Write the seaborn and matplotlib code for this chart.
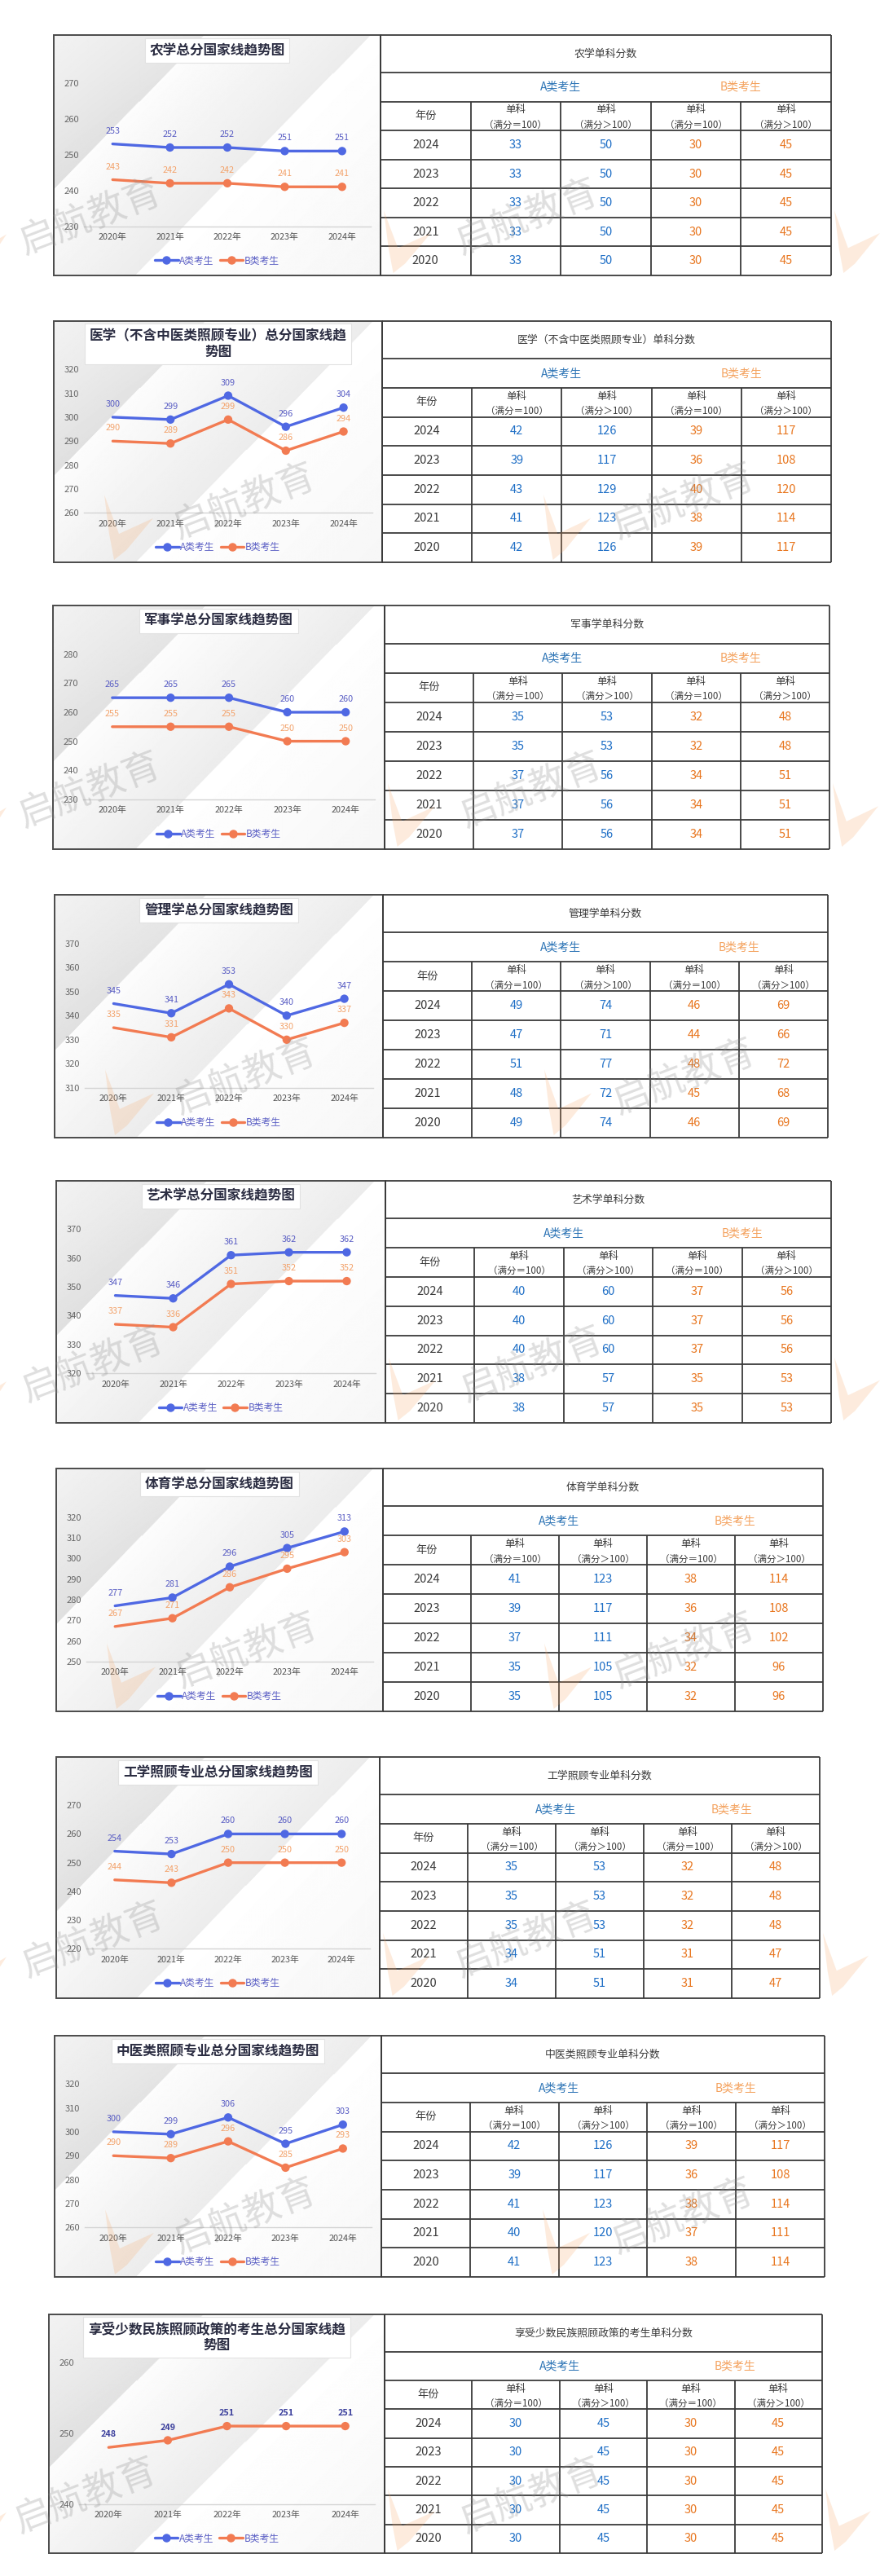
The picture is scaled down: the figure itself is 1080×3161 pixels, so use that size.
import numpy as np
import pandas as pd
import matplotlib
matplotlib.use("Agg")
import matplotlib.pyplot as plt
import seaborn as sns
from matplotlib.lines import Line2D
from matplotlib.patches import Rectangle, Polygon

# ---------------- data ----------------
years = [2020, 2021, 2022, 2023, 2024]
year_labels = ["2020年", "2021年", "2022年", "2023年", "2024年"]
table_years = [2024, 2023, 2022, 2021, 2020]
series_names = ["A类考生", "B类考生"]

chart_titles = [
    "农学总分国家线趋势图",
    "医学（不含中医类照顾专业）总分国家线趋\n势图",
    "军事学总分国家线趋势图",
    "管理学总分国家线趋势图",
    "艺术学总分国家线趋势图",
    "体育学总分国家线趋势图",
    "工学照顾专业总分国家线趋势图",
    "中医类照顾专业总分国家线趋势图",
    "享受少数民族照顾政策的考生总分国家线趋\n势图",
]
table_titles = [
    "农学单科分数",
    "医学（不含中医类照顾专业）单科分数",
    "军事学单科分数",
    "管理学单科分数",
    "艺术学单科分数",
    "体育学单科分数",
    "工学照顾专业单科分数",
    "中医类照顾专业单科分数",
    "享受少数民族照顾政策的考生单科分数",
]

# total scores (2020..2024)
nongxue_a = [253, 252, 252, 251, 251]
nongxue_b = [243, 242, 242, 241, 241]
yixue_a = [300, 299, 309, 296, 304]
yixue_b = [290, 289, 299, 286, 294]
junshi_a = [265, 265, 265, 260, 260]
junshi_b = [255, 255, 255, 250, 250]
guanli_a = [345, 341, 353, 340, 347]
guanli_b = [335, 331, 343, 330, 337]
yishu_a = [347, 346, 361, 362, 362]
yishu_b = [337, 336, 351, 352, 352]
tiyu_a = [277, 281, 296, 305, 313]
tiyu_b = [267, 271, 286, 295, 303]
gongxue_a = [254, 253, 260, 260, 260]
gongxue_b = [244, 243, 250, 250, 250]
zhongyi_a = [300, 299, 306, 295, 303]
zhongyi_b = [290, 289, 296, 285, 293]
minzu_a = None
minzu_b = [248, 249, 251, 251, 251]

y_ranges = [(230, 270), (260, 320), (230, 280), (310, 370), (320, 370),
            (250, 320), (220, 270), (260, 320), (240, 260)]

# single-subject tables, rows 2024..2020: [A =100, A >100, B =100, B >100]
nongxue_tab = [[33, 50, 30, 45], [33, 50, 30, 45], [33, 50, 30, 45], [33, 50, 30, 45], [33, 50, 30, 45]]
yixue_tab = [[42, 126, 39, 117], [39, 117, 36, 108], [43, 129, 40, 120], [41, 123, 38, 114], [42, 126, 39, 117]]
junshi_tab = [[35, 53, 32, 48], [35, 53, 32, 48], [37, 56, 34, 51], [37, 56, 34, 51], [37, 56, 34, 51]]
guanli_tab = [[49, 74, 46, 69], [47, 71, 44, 66], [51, 77, 48, 72], [48, 72, 45, 68], [49, 74, 46, 69]]
yishu_tab = [[40, 60, 37, 56], [40, 60, 37, 56], [40, 60, 37, 56], [38, 57, 35, 53], [38, 57, 35, 53]]
tiyu_tab = [[41, 123, 38, 114], [39, 117, 36, 108], [37, 111, 34, 102], [35, 105, 32, 96], [35, 105, 32, 96]]
gongxue_tab = [[35, 53, 32, 48], [35, 53, 32, 48], [35, 53, 32, 48], [34, 51, 31, 47], [34, 51, 31, 47]]
zhongyi_tab = [[42, 126, 39, 117], [39, 117, 36, 108], [41, 123, 38, 114], [40, 120, 37, 111], [41, 123, 38, 114]]
minzu_tab = [[30, 45, 30, 45], [30, 45, 30, 45], [30, 45, 30, 45], [30, 45, 30, 45], [30, 45, 30, 45]]

a_series = [nongxue_a, yixue_a, junshi_a, guanli_a, yishu_a, tiyu_a, gongxue_a, zhongyi_a, minzu_a]
b_series = [nongxue_b, yixue_b, junshi_b, guanli_b, yishu_b, tiyu_b, gongxue_b, zhongyi_b, minzu_b]
tables = [nongxue_tab, yixue_tab, junshi_tab, guanli_tab, yishu_tab, tiyu_tab, gongxue_tab, zhongyi_tab, minzu_tab]

# ---------------- style ----------------
sns.set_theme(style="white")
plt.rcParams["font.family"] = ["Noto Sans CJK SC", "DejaVu Sans"]
plt.rcParams["axes.unicode_minus"] = False

W, H = 1080, 3161
fig = plt.figure(figsize=(W / 100, H / 100), dpi=100)
fig.patch.set_facecolor("white")

COL_A = "#4f68e3"
COL_B = "#f27b52"
LAB_A = "#5a5ec4"
LAB_B = "#f3a36c"
TAB_A = "#1f6fc6"
TAB_B = "#e8761f"
LINE = "#3a3a3a"

# panel geometry in pixels: chart-left, table-left, table-right, top, bottom
panels = [
    (66, 467, 1020, 43, 338),
    (66, 469, 1020, 394, 690),
    (65, 472, 1018, 743, 1042),
    (67, 470, 1016, 1098, 1396),
    (69, 473, 1020, 1449, 1746),
    (69, 470, 1010, 1802, 2100),
    (69, 466, 1006, 2156, 2452),
    (67, 468, 1012, 2498, 2794),
    (60, 472, 1009, 2840, 3133),
]


def rect(x0, y0, x1, y1):
    return [x0 / W, 1 - y1 / H, (x1 - x0) / W, (y1 - y0) / H]


def fx(x):
    return x / W


def fy(y):
    return 1 - y / H


# background gradient of chart boxes
nx, ny = 420, 300
gx = np.linspace(0, 1, nx)[None, :]
gy = np.linspace(0, 1, ny)[:, None]
t = gx + 0.72 * gy
grad = np.select(
    [t < 0.46, t < 0.97],
    [0.95 - 0.09 * (t / 0.46) * (0.55 + 0.45 * gy),
     0.99 - 0.065 * ((t - 0.46) / 0.51)],
    default=1.0 - 0.035 * ((t - 0.97) / 0.75),
)
grad = np.clip(grad, 0, 1)


def chevron(x0, y0, w, h, alpha=0.22):
    shape = [(0.0, 0.0), (0.3, 0.6), (1.0, 0.36), (0.45, 0.85), (0.2, 1.0), (0.1, 0.6)]
    pts = [(fx(x0 + u * w), fy(y0 + v * h)) for u, v in shape]
    poly = Polygon(pts, closed=True, transform=fig.transFigure, facecolor="#f7a868",
                   edgecolor="none", alpha=alpha, zorder=8)
    fig.add_artist(poly)


def watermark(x, y):
    fig.text(fx(x), fy(y), "启航教育", fontsize=33, color="#8c8c8c", alpha=0.28,
             rotation=21, ha="center", va="center", zorder=9)


for k in range(9):
    cl, tl, tr, top, bot = panels[k]
    bh = bot - top

    # ---- chart background box ----
    bg = fig.add_axes(rect(cl, top, tl, bot), zorder=0)
    bg.imshow(grad, extent=[0, 1, 0, 1], aspect="auto", cmap="gray", vmin=0, vmax=1,
              interpolation="bilinear")
    bg.set_xlim(0, 1)
    bg.set_ylim(0, 1)
    bg.axis("off")
    bg.add_patch(Rectangle((0, 0), 1, 1, transform=bg.transAxes, fill=False,
                           ec="#4a4a4a", lw=1.4, clip_on=False, zorder=5))

    # ---- line chart ----
    ax = fig.add_axes(rect(cl + 37, top + 0.20 * bh, tl - 12, top + 0.795 * bh), zorder=2)
    ax.patch.set_alpha(0)
    rows = []
    for name, vals in zip(series_names, [a_series[k], b_series[k]]):
        if vals is None:
            continue
        for i, v in enumerate(vals):
            rows.append({"x": i, "score": v, "group": name})
    df = pd.DataFrame(rows)
    pal = {"A类考生": COL_A, "B类考生": COL_B}
    sns.lineplot(data=df, x="x", y="score", hue="group", palette=pal, ax=ax,
                 linewidth=2.4, legend=False, zorder=3)
    sns.scatterplot(data=df[df["x"] > 0], x="x", y="score", hue="group", palette=pal,
                    ax=ax, s=55, edgecolor="none", legend=False, zorder=4)
    for _, r in df.iterrows():
        if k == 8:
            c, fw = "#3b3f9c", "bold"
        else:
            c = LAB_A if r["group"] == "A类考生" else LAB_B
            fw = "normal"
        ax.annotate(f"{int(r['score'])}", (r["x"], r["score"]), xytext=(0, 11.5),
                    textcoords="offset points", ha="center", va="center",
                    fontsize=7.8, color=c, fontweight=fw, zorder=5)
    ymin, ymax = y_ranges[k]
    ax.set_xlim(-0.5, 4.5)
    ax.set_ylim(ymin, ymax)
    ax.set_yticks(np.arange(ymin, ymax + 1, 10))
    ax.set_xticks(range(5))
    ax.set_xticklabels(year_labels)
    ax.set_xticks(np.arange(-0.5, 5, 1), minor=True)
    ax.set_xlabel("")
    ax.set_ylabel("")
    for s in ["top", "right", "left"]:
        ax.spines[s].set_visible(False)
    ax.spines["bottom"].set_color("#d4d4d4")
    ax.spines["bottom"].set_linewidth(1.0)
    ax.tick_params(axis="y", length=0, pad=4, labelsize=8, labelcolor="#666666")
    ax.tick_params(axis="x", which="major", length=0, pad=6, labelsize=7.8, labelcolor="#555555")
    ax.tick_params(axis="x", which="minor", length=4, color="#d4d4d4", width=1.0)
    ax.grid(False)

    # ---- title ----
    two_line = "\n" in chart_titles[k]
    ty = top + (28 if two_line else 19)
    fig.text(fx((cl + tl) / 2), fy(ty), chart_titles[k], ha="center", va="center",
             fontsize=12, fontweight="bold", color="#2b2d42", linespacing=1.15,
             bbox=dict(boxstyle="square,pad=0.35", fc="white", ec="#e2e2e2", lw=0.8),
             zorder=6)

    # ---- legend ----
    handles = [Line2D([0], [0], color=COL_A, lw=2.4, marker="o", markersize=6.5),
               Line2D([0], [0], color=COL_B, lw=2.4, marker="o", markersize=6.5)]
    bg.legend(handles, series_names, loc="center", bbox_to_anchor=(0.5, 1 - 277 / 295),
              ncol=2, frameon=False, fontsize=8.5, handlelength=2.4, handletextpad=0.15,
              columnspacing=0.6, labelcolor="#5a5ec4")

    # ---- table ----
    tb = fig.add_axes(rect(tl, top, tr, bot), zorder=1)
    tb.set_xlim(0, 5)
    tb.set_ylim(0, 1)
    tb.axis("off")
    title_h = 0.156
    rh = (1 - title_h) / 7
    ys = [1.0, 1.0 - title_h] + [1.0 - title_h - rh * i for i in range(1, 8)]
    ys[-1] = 0.0
    tb.hlines(ys, 0, 5, color=LINE, lw=1.3, clip_on=False)
    tb.vlines([0, 5], 0, 1, color=LINE, lw=1.3, clip_on=False)
    tb.vlines([1, 2, 3, 4], 0, ys[2], color=LINE, lw=1.3)
    tb.text(2.5, (ys[0] + ys[1]) / 2, table_titles[k], ha="center", va="center",
            fontsize=9.3, color="#3a3a3a")
    gmid = (ys[1] + ys[2]) / 2
    tb.text(2.0, gmid, "A类考生", ha="center", va="center", fontsize=10, color="#2e75b6")
    tb.text(4.0, gmid, "B类考生", ha="center", va="center", fontsize=10, color="#f4a25e")
    tb.text(0.5, (ys[2] + ys[3]) / 2, "年份", ha="center", va="center", fontsize=9.5, color="#3a3a3a")
    sub = ["（满分＝100）", "（满分＞100）", "（满分＝100）", "（满分＞100）"]
    for c in range(4):
        tb.text(c + 1.5, ys[2] - 0.29 * rh, "单科", ha="center", va="center",
                fontsize=9, color="#3a3a3a")
        tb.text(c + 1.5, ys[3] + 0.2 * rh, sub[c], ha="center", va="center",
                fontsize=8.3, color="#3a3a3a")
    for r, yr in enumerate(table_years):
        ymid = (ys[3 + r] + ys[4 + r]) / 2
        tb.text(0.5, ymid, str(yr), ha="center", va="center", fontsize=10.5, color="#3a3a3a")
        for c, v in enumerate(tables[k][r]):
            tb.text(c + 1.5, ymid, str(v), ha="center", va="center", fontsize=10.5,
                    color=TAB_A if c < 2 else TAB_B)

    # ---- watermarks ----
    if k % 2 == 0:
        watermark(cl + 45, top + 0.76 * bh)
        watermark(tl + 180, top + 0.76 * bh)
        chevron(tl + 4, top + 0.73 * bh, 58, 0.26 * bh)
        chevron(tr + 4, top + 0.73 * bh, 56, 0.26 * bh)
        chevron(-6, top + 0.8 * bh, 14, 0.08 * bh)
    else:
        watermark(cl + 234, top + 0.75 * bh)
        watermark(tl + 370, top + 0.75 * bh)
        chevron(cl + 62, top + 0.72 * bh, 60, 0.27 * bh)
        chevron(tl + 198, top + 0.72 * bh, 58, 0.27 * bh)

fig.savefig("out.png", dpi=100, facecolor="white")
